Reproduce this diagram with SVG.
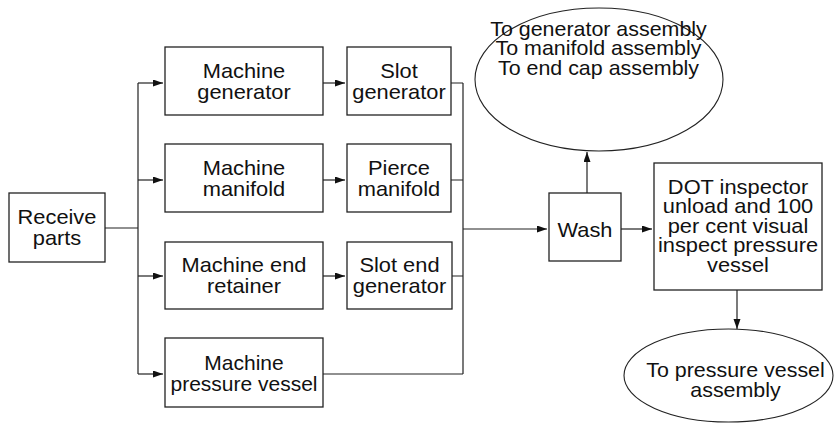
<svg xmlns="http://www.w3.org/2000/svg" width="834" height="423" viewBox="0 0 834 423">
  <style>
    .box { fill: #fff; stroke: #222; stroke-width: 1.3; }
    .oval { fill: #fff; stroke: #222; stroke-width: 1.1; }
    .wire { fill: none; stroke: #222; stroke-width: 1.2; }
    .arr { marker-end: url(#head); }
    .t { font-family: "Liberation Sans", Arial, Helvetica, sans-serif; font-size: 21px; fill: #111; text-anchor: middle; }
  </style>
  <defs>
    <marker id="head" markerUnits="userSpaceOnUse" markerWidth="11" markerHeight="8" refX="10" refY="3.5" orient="auto">
      <path d="M0,0 L10,3.5 L0,7 Z" fill="#111"/>
    </marker>
  </defs>
  <rect width="834" height="423" fill="#fff"/>

  <!-- connectors -->
  <g id="connectors">
    <path class="wire" d="M105,228 H138 M138,83 V374"/>
    <path class="wire arr" d="M138,83 H163"/>
    <path class="wire arr" d="M138,180 H163"/>
    <path class="wire arr" d="M138,276 H163"/>
    <path class="wire arr" d="M138,374 H163"/>
    <path class="wire arr" d="M323,83 H345"/>
    <path class="wire arr" d="M323,180 H345"/>
    <path class="wire arr" d="M323,276 H345"/>
    <path class="wire" d="M451,83 H463 M451,180 H463 M452,276 H463 M323,374 H463 M463,83 V374"/>
    <path class="wire arr" d="M463,229 H547"/>
    <path class="wire arr" d="M587,193 V152"/>
    <path class="wire arr" d="M621,229 H652"/>
    <path class="wire arr" d="M737,290 V329"/>
  </g>

  <g id="receive-parts">
    <rect class="box" x="9" y="193" width="96" height="69"/>
    <text class="t" transform="translate(57 0) scale(1.04 1)"><tspan x="0" y="224.5">Receive</tspan><tspan x="0" y="245.5">parts</tspan></text>
  </g>

  <g id="machine-generator">
    <rect class="box" x="165" y="47" width="158" height="68"/>
    <text class="t" transform="translate(244 0) scale(1.04 1)"><tspan x="0" y="78">Machine</tspan><tspan x="0" y="99">generator</tspan></text>
  </g>

  <g id="machine-manifold">
    <rect class="box" x="165" y="144" width="158" height="68"/>
    <text class="t" transform="translate(244 0) scale(1.04 1)"><tspan x="0" y="175">Machine</tspan><tspan x="0" y="196">manifold</tspan></text>
  </g>

  <g id="machine-end-retainer">
    <rect class="box" x="165" y="242" width="158" height="67"/>
    <text class="t" transform="translate(244 0) scale(1.04 1)"><tspan x="0" y="272.5">Machine end</tspan><tspan x="0" y="293.5">retainer</tspan></text>
  </g>

  <g id="machine-pressure-vessel">
    <rect class="box" x="165" y="338" width="158" height="69"/>
    <text class="t" transform="translate(244 0)"><tspan x="0" y="369.5">Machine</tspan><tspan x="0" y="390.5">pressure vessel</tspan></text>
  </g>

  <g id="slot-generator">
    <rect class="box" x="347" y="47" width="104" height="68"/>
    <text class="t" transform="translate(399 0) scale(1.04 1)"><tspan x="0" y="78">Slot</tspan><tspan x="0" y="99">generator</tspan></text>
  </g>

  <g id="pierce-manifold">
    <rect class="box" x="347" y="144" width="104" height="68"/>
    <text class="t" transform="translate(399 0) scale(1.04 1)"><tspan x="0" y="175">Pierce</tspan><tspan x="0" y="196">manifold</tspan></text>
  </g>

  <g id="slot-end-generator">
    <rect class="box" x="347" y="242" width="105" height="67"/>
    <text class="t" transform="translate(399.5 0) scale(1.04 1)"><tspan x="0" y="272.5">Slot end</tspan><tspan x="0" y="293.5">generator</tspan></text>
  </g>

  <g id="wash">
    <rect class="box" x="549" y="193" width="72" height="68"/>
    <text class="t" transform="translate(585 0) scale(1.04 1)"><tspan x="0" y="237">Wash</tspan></text>
  </g>

  <g id="to-assemblies">
    <ellipse class="oval" cx="599" cy="79.5" rx="124" ry="71.5"/>
    <text class="t" transform="translate(598.5 0) scale(1.02 1)"><tspan x="0" y="36">To generator assembly</tspan><tspan x="0" y="55.5">To manifold assembly</tspan><tspan x="0" y="75">To end cap assembly</tspan></text>
  </g>

  <g id="dot-inspection">
    <rect class="box" x="654" y="163" width="168" height="127"/>
    <text class="t" transform="translate(738 0) scale(1.04 1)"><tspan x="0" y="194">DOT inspector</tspan><tspan x="0" y="213.5">unload and 100</tspan><tspan x="0" y="233">per cent visual</tspan><tspan x="0" y="252.5">inspect pressure</tspan><tspan x="0" y="272">vessel</tspan></text>
  </g>

  <g id="to-pressure-vessel-assembly">
    <ellipse class="oval" cx="728.5" cy="375.5" rx="104.5" ry="46.5"/>
    <text class="t" transform="translate(735.5 0) scale(1.02 1)"><tspan x="0" y="377">To pressure vessel</tspan><tspan x="0" y="397">assembly</tspan></text>
  </g>
</svg>
